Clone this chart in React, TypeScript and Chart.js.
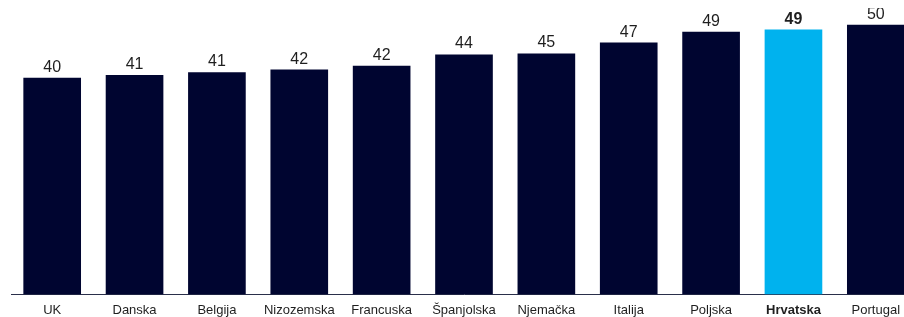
import React, { useEffect, useRef } from "react";
import { Chart, registerables } from "chart.js";

Chart.register(...registerables);

const categories = ["UK", "Danska", "Belgija", "Nizozemska", "Francuska", "Španjolska", "Njemačka", "Italija", "Poljska", "Hrvatska", "Portugal"];
const values = [40.1, 40.6, 41.1, 41.6, 42.3, 44.4, 44.6, 46.6, 48.6, 49.0, 49.9];
const highlight = "Hrvatska";

const NAVY = "#000530";
const CYAN = "#00B2EE";
const TEXT = "#1f1f1f";
const FONT = "'Liberation Sans', Arial, sans-serif";

const valueLabels = {
  id: "valueLabels",
  afterDatasetsDraw(chart: any) {
    const ctx = chart.ctx;
    const meta = chart.getDatasetMeta(0);
    ctx.save();
    ctx.textAlign = "center";
    ctx.textBaseline = "alphabetic";
    ctx.fillStyle = TEXT;
    meta.data.forEach((bar: any, i: number) => {
      const bold = categories[i] === highlight;
      ctx.font = `${bold ? "bold " : ""}16px ${FONT}`;
      ctx.fillText(String(Math.round(values[i])), bar.x, bar.y - 6);
    });
    ctx.restore();
  },
};

if (typeof document !== "undefined") {
  document.body.style.margin = "0";
}

export default function App() {
  const ref = useRef<HTMLCanvasElement>(null);
  useEffect(() => {
    if (!ref.current) return;
    const chart = new Chart(ref.current, {
      type: "bar",
      data: {
        labels: categories,
        datasets: [
          {
            data: values,
            backgroundColor: categories.map((c) => (c === highlight ? CYAN : NAVY)),
            categoryPercentage: 0.7,
            barPercentage: 1,
          },
        ],
      },
      options: {
        animation: false,
        responsive: true,
        maintainAspectRatio: false,
        layout: { padding: { left: 3, right: 3, top: 0, bottom: 0 } },
        plugins: { legend: { display: false }, tooltip: { enabled: false } },
        scales: {
          y: { display: false, min: 0, max: 53 },
          x: {
            grid: { display: false, drawTicks: false },
            border: { display: true, color: "#2a2f4a", width: 1 },
            afterFit: (s: any) => {
              s.height = 22.5;
            },
            ticks: {
              padding: 8,
              color: TEXT,
              font: (c: any) => ({
                family: FONT,
                size: 13,
                weight: categories[c.index] === highlight ? "bold" : "normal",
              }),
            },
          },
        },
      },
      plugins: [valueLabels],
    });
    return () => chart.destroy();
  }, []);
  return (
    <div style={{ width: 904, height: 317, overflow: "hidden", position: "relative" }}>
      <div style={{ position: "absolute", left: 8, top: 8, width: 912, height: 309 }}>
        <canvas ref={ref} />
      </div>
    </div>
  );
}
